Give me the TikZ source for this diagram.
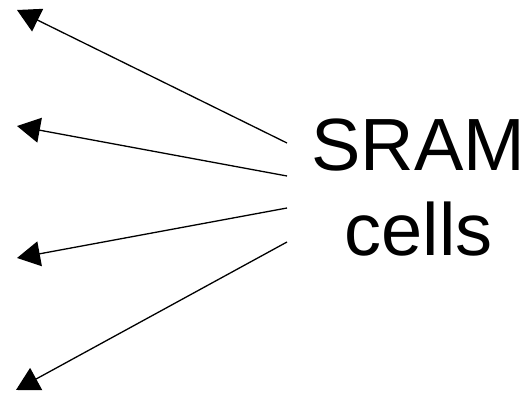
\documentclass[tikz,border=0pt]{standalone}
\usepackage{fontspec}
\setmainfont{Liberation Sans}
\usetikzlibrary{arrows.meta}
\begin{document}
\begin{tikzpicture}[x=1pt,y=-1pt,
  lbl/.style={inner sep=0pt,anchor=base,font=\fontsize{74}{88}\selectfont},
  arr/.style={line width=1.3pt,-{Triangle[width=25pt,length=23pt]}}]
\useasboundingbox (0,0) rectangle (531,393);
\node[lbl] (sram) at (418.5,171) {SRAM};
\node[lbl] (cells) at (418.5,256) {cells};
\coordinate (s1) at (287,143);
\coordinate (s2) at (287,176);
\coordinate (s3) at (287,208);
\coordinate (s4) at (287,242);
\coordinate (t1) at (17,10);
\coordinate (t2) at (17,126);
\coordinate (t3) at (17,258);
\coordinate (t4) at (16,390);
\draw[arr] (s1) -- (t1);
\draw[arr] (s2) -- (t2);
\draw[arr] (s3) -- (t3);
\draw[arr] (s4) -- (t4);
\end{tikzpicture}
\end{document}
